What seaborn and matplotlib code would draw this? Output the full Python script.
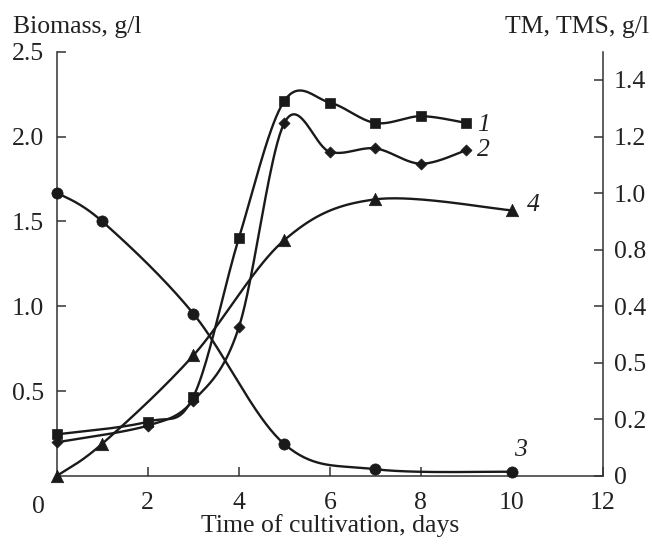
import numpy as np
import pandas as pd
import matplotlib
matplotlib.use("Agg")
import matplotlib.pyplot as plt
import seaborn as sns

# ---- data ----
days_tm = [0, 2, 3, 4, 5, 6, 7, 8, 9]
tm_1 = [0.147, 0.192, 0.280, 0.840, 1.326, 1.320, 1.248, 1.272, 1.248]     # curve 1 (right axis)
tms_2 = [0.119, 0.178, 0.266, 0.525, 1.248, 1.146, 1.158, 1.104, 1.152]    # curve 2 (right axis)
days_b = [0, 1, 3, 5, 7, 10]
curve_3 = [1.67, 1.50, 0.957, 0.188, 0.040, 0.025]                        # curve 3 (left axis)
curve_4 = [0.0, 0.19, 0.71, 1.39, 1.63, 1.565]                            # curve 4 (left axis)

x_ticks = [2, 4, 6, 8, 10, 12]
left_ticks = [0.5, 1.0, 1.5, 2.0, 2.5]
left_labels = ["0.5", "1.0", "1.5", "2.0", "2.5"]
right_ticks = [0, 0.2, 0.4, 0.6, 0.8, 1.0, 1.2, 1.4]
right_labels = ["0", "0.2", "0.5", "0.4", "0.8", "1.0", "1.2", "1.4"]

sns.set_style("ticks")
plt.rcParams['font.family'] = ['Liberation Serif', 'DejaVu Serif']

FS = 18.5
INK = "#1a1a1a"
AXC = "#333333"
TXT = "#222222"

fig = plt.figure(figsize=(6.52, 5.44), dpi=100)
ax = fig.add_axes([56.7 / 652, 68 / 544, (603 - 56.7) / 652, (476 - 51.7) / 544])
ax2 = ax.twinx()

ax.set_xlim(0, 12)
ax.set_ylim(0, 2.5)
ax2.set_ylim(0, 1.5)


def smooth(axis, x, y, n=40):
    pts = axis.transData.transform(np.column_stack([x, y]))
    P = np.vstack([pts[0], pts, pts[-1]])
    t = np.linspace(0, 1, n)[:, None]
    out = []
    for i in range(1, len(P) - 2):
        p0, p1, p2, p3 = P[i - 1], P[i], P[i + 1], P[i + 2]
        b1 = p1 + (p2 - p0) / 6.0
        b2 = p2 - (p3 - p1) / 6.0
        seg = (1 - t) ** 3 * p1 + 3 * (1 - t) ** 2 * t * b1 + 3 * (1 - t) * t ** 2 * b2 + t ** 3 * p2
        out.append(seg if i == 1 else seg[1:])
    out = np.vstack(out)
    d = axis.transData.inverted().transform(out)
    return d[:, 0], d[:, 1]


LW = 1.7
for axis, x, y, mk, s in [
    (ax2, days_tm, tm_1, 's', 55),
    (ax2, days_tm, tms_2, 'D', 32),
    (ax, days_b, curve_3, 'o', 65),
    (ax, days_b, curve_4, '^', 80),
]:
    sx, sy = smooth(axis, x, y)
    sns.lineplot(x=sx, y=sy, ax=axis, sort=False, estimator=None, color=INK, lw=LW)
    sns.scatterplot(x=x, y=y, ax=axis, marker=mk, s=s, color=INK, edgecolor=INK,
                    linewidth=0.5, zorder=5, clip_on=False)

ax.set_xlim(0, 12)
ax.set_ylim(0, 2.5)
ax2.set_ylim(0, 1.5)

# axes styling
for a in (ax, ax2):
    a.spines['top'].set_visible(False)
    for sp in a.spines.values():
        sp.set_color(AXC)
        sp.set_linewidth(1.1)
ax.spines['right'].set_visible(False)
ax2.spines['left'].set_visible(False)
ax2.spines['bottom'].set_visible(False)

ax.set_xticks(x_ticks)
ax.set_xticklabels([str(v) for v in x_ticks])
ax.set_yticks(left_ticks)
ax.set_yticklabels(left_labels)
ax2.set_yticks(right_ticks)
ax2.set_yticklabels(right_labels)

ax.tick_params(axis='x', direction='in', length=6.5, width=1.1, color=AXC,
               labelsize=FS, labelcolor=TXT, pad=11.5)
ax.tick_params(axis='y', direction='in', length=6.5, width=1.1, color=AXC,
               labelsize=FS, labelcolor=TXT, pad=9)
ax2.tick_params(axis='y', direction='in', length=6.5, width=1.1, color=AXC,
                labelsize=FS, labelcolor=TXT, pad=8)

ax.annotate("0", xy=(0, 0), xycoords='axes fraction', xytext=(-13.5, -22.5),
            textcoords='offset points', ha='center', va='center', fontsize=FS, color=TXT)

ax.set_xlabel("Time of cultivation, days", fontsize=FS, color=TXT, labelpad=0)
ax.set_ylabel("")
ax2.set_ylabel("")

# curve labels
for txt, xx, yy in [("1", 9.37, 2.07), ("2", 9.37, 1.92), ("3", 10.18, 0.153), ("4", 10.46, 1.594)]:
    ax.text(xx, yy, txt, fontsize=FS, style='italic', ha='center', va='center', color=TXT)

fig.text(12.7 / 652, 1 - 33 / 544, "Biomass, g/l", ha='left', va='baseline', fontsize=FS, color=TXT)
fig.text(649 / 652, 1 - 33 / 544, "TM, TMS, g/l", ha='right', va='baseline', fontsize=FS, color=TXT)

fig.savefig("out.png", dpi=100, facecolor='white')
